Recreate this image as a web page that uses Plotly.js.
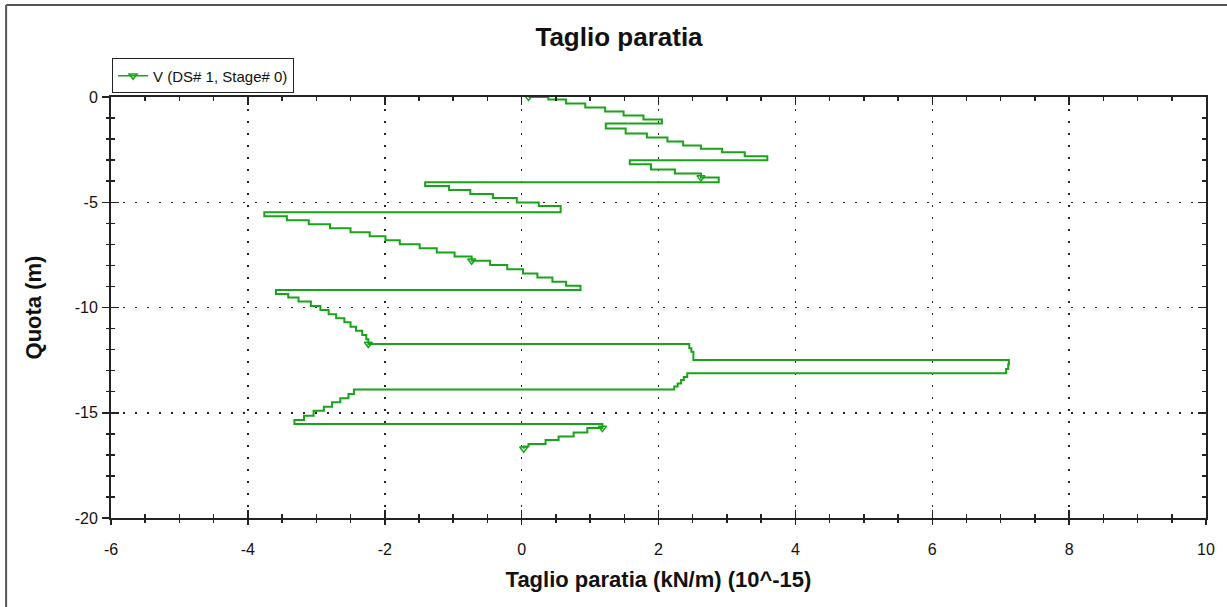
<!DOCTYPE html>
<html>
<head>
<meta charset="utf-8">
<script src="https://cdn.plot.ly/plotly-3.0.1.min.js"></script>
<style>
  html, body { margin: 0; padding: 0; background: #ffffff; }
  #chart { width: 1227px; height: 607px; }
</style>
</head>
<body>
<div id="chart"></div>
<script>
// Shear along the wall: each element has a constant value from its top depth
// down to the top depth of the next element (stepped profile).
const quota = [
  0.00, 0.00, -0.12, -0.31, -0.50, -0.69, -0.88, -1.07, -1.26, -1.50,
  -1.73, -1.92, -2.11, -2.30, -2.46, -2.62, -2.81, -3.01, -3.19, -3.44,
  -3.63, -3.82, -4.05, -4.23, -4.42, -4.61, -4.80, -5.01, -5.18, -5.47,
  -5.66, -5.85, -6.04, -6.23, -6.42, -6.61, -6.80, -7.00, -7.19, -7.39,
  -7.58, -7.78, -7.98, -8.18, -8.38, -8.58, -8.78, -8.97, -9.17, -9.36,
  -9.52, -9.72, -9.93, -10.12, -10.32, -10.51, -10.70, -10.91, -11.10, -11.31,
  -11.51, -11.73, -11.94, -12.10, -12.30, -12.49, -12.70, -12.92, -13.12, -13.30,
  -13.44, -13.61, -13.75, -13.90, -14.11, -14.31, -14.50, -14.71, -14.91, -15.14,
  -15.34, -15.54, -15.73, -15.94, -16.13, -16.29, -16.48, -16.60, -16.71
];
const taglio = [
  0.10, 0.39, 0.65, 0.93, 1.22, 1.49, 1.78, 2.05, 1.23, 1.52,
  1.83, 2.13, 2.36, 2.62, 2.93, 3.26, 3.59, 1.58, 1.89, 2.24,
  2.62, 2.88, -1.41, -1.06, -0.75, -0.42, -0.07, 0.25, 0.57, -3.76,
  -3.43, -3.11, -2.80, -2.50, -2.22, -1.99, -1.78, -1.49, -1.24, -0.98,
  -0.73, -0.46, -0.21, 0.02, 0.23, 0.45, 0.65, 0.86, -3.59, -3.41,
  -3.26, -3.08, -2.94, -2.82, -2.71, -2.59, -2.50, -2.42, -2.33, -2.27,
  -2.24, 2.45, 2.48, 2.51, 2.51, 7.12, 7.11, 7.08, 2.42, 2.37,
  2.33, 2.28, 2.23, -2.45, -2.53, -2.65, -2.77, -2.89, -3.04, -3.18,
  -3.32, 1.18, 0.96, 0.76, 0.54, 0.35, 0.10, 0.03, 0.03
];
// Elements whose lower corner carries a symbol
const markerNodes = [0, 20, 40, 60, 81, 88];

// Axis tick values and their printed labels (plain hyphen for negatives)
const xTickVals = [-6, -4, -2, 0, 2, 4, 6, 8, 10];
const xTickText = ['-6', '-4', '-2', '0', '2', '4', '6', '8', '10'];
const yTickVals = [-20, -15, -10, -5, 0];
const yTickText = ['-20', '-15', '-10', '-5', '0'];

const seriesName = 'V (DS# 1, Stage# 0)';
const green = '#18a418';
const ink = '#222222';

const mx = markerNodes.map(k => taglio[k]);
const my = markerNodes.map(k => quota[Math.min(k + 1, quota.length - 1)]);

const traces = [
  {
    x: taglio, y: quota, type: 'scatter', mode: 'lines',
    line: { color: green, width: 2, shape: 'vh' },
    showlegend: false, hoverinfo: 'x+y'
  },
  {
    x: mx, y: my, type: 'scatter', mode: 'markers',
    marker: { symbol: 'triangle-down-open', size: 7, color: green, line: { color: green, width: 1.5 } },
    showlegend: false, hoverinfo: 'x+y'
  },
  {
    // legend entry: line with the series symbol
    x: [null], y: [null], type: 'scatter', mode: 'lines+markers', name: seriesName,
    line: { color: green, width: 1.5 },
    marker: { symbol: 'triangle-down-open', size: 7, color: green, line: { color: green, width: 1.5 } }
  },
  {
    // carrier for the outward tick marks on the bottom and left axes
    x: [null], y: [null], xaxis: 'x2', yaxis: 'y2', type: 'scatter', mode: 'lines',
    showlegend: false, hoverinfo: 'skip'
  }
];

const fam = 'Liberation Sans, Arial, sans-serif';
const tickFont = { family: fam, size: 16, color: '#111' };
const titleFont = { family: fam, size: 22, color: '#111', weight: 'bold' };

const layout = {
  width: 1227, height: 607,
  paper_bgcolor: '#ffffff', plot_bgcolor: '#ffffff',
  margin: { l: 111, r: 21, t: 97, b: 89 },
  title: {
    text: 'Taglio paratia',
    font: { family: fam, size: 26, color: '#111', weight: 'bold' },
    x: 0.5045, xanchor: 'center', xref: 'container',
    y: 1 - 37 / 607, yanchor: 'middle', yref: 'container'
  },
  showlegend: true,
  legend: {
    x: 0.001, xanchor: 'left', y: 1.05, yanchor: 'middle',
    bgcolor: '#ffffff', bordercolor: ink, borderwidth: 1,
    font: { family: fam, size: 15, color: '#111' }
  },
  xaxis: {
    range: [-6, 10], autorange: false,
    tickmode: 'array', tickvals: xTickVals, ticktext: xTickText,
    showline: true, linecolor: ink, linewidth: 2, mirror: 'allticks',
    ticks: 'inside', ticklen: 8, tickwidth: 1.5, tickcolor: ink,
    minor: { dtick: 0.5, ticks: 'inside', ticklen: 4, tickwidth: 1.5, tickcolor: ink, showgrid: false },
    showgrid: true, gridcolor: ink, gridwidth: 1.5, griddash: '2px,10px',
    zeroline: false,
    tickfont: tickFont, ticklabelstandoff: 16,
    title: { text: 'Taglio paratia (kN/m) (10^-15)', font: titleFont, standoff: 14 }
  },
  yaxis: {
    range: [-20, 0], autorange: false,
    tickmode: 'array', tickvals: yTickVals, ticktext: yTickText,
    showline: true, linecolor: ink, linewidth: 2, mirror: 'allticks',
    ticks: 'inside', ticklen: 8, tickwidth: 1.5, tickcolor: ink,
    minor: { dtick: 1, ticks: 'inside', ticklen: 4, tickwidth: 1.5, tickcolor: ink, showgrid: false },
    showgrid: true, gridcolor: ink, gridwidth: 1.5, griddash: '2px,10px',
    zeroline: false,
    tickfont: tickFont, ticklabelstandoff: 8,
    title: { text: 'Quota (m)', font: titleFont, standoff: 27 }
  },
  xaxis2: {
    overlaying: 'x', side: 'bottom', range: [-6, 10], autorange: false,
    tickmode: 'array', tickvals: xTickVals,
    showline: false, showgrid: false, zeroline: false, showticklabels: false,
    ticks: 'outside', ticklen: 6, tickwidth: 1.5, tickcolor: ink,
    minor: { dtick: 0.5, ticks: 'outside', ticklen: 4, tickwidth: 1.5, tickcolor: ink, showgrid: false }
  },
  yaxis2: {
    overlaying: 'y', side: 'left', range: [-20, 0], autorange: false,
    tickmode: 'array', tickvals: yTickVals,
    showline: false, showgrid: false, zeroline: false, showticklabels: false,
    ticks: 'outside', ticklen: 8, tickwidth: 1.5, tickcolor: ink,
    minor: { dtick: 1, ticks: 'outside', ticklen: 4, tickwidth: 1.5, tickcolor: ink, showgrid: false }
  },
  shapes: [
    // outer frame of the chart window (left and top edges)
    { type: 'line', xref: 'paper', yref: 'paper', x0: -0.0958, x1: -0.0958, y0: 1.2185, y1: -0.25,
      line: { color: '#555', width: 2 } },
    { type: 'line', xref: 'paper', yref: 'paper', x0: -0.0958, x1: 1.05, y0: 1.2185, y1: 1.2185,
      line: { color: '#555', width: 2 } }
  ]
};

Plotly.newPlot('chart', traces, layout, { displayModeBar: false, staticPlot: true });
</script>
</body>
</html>
